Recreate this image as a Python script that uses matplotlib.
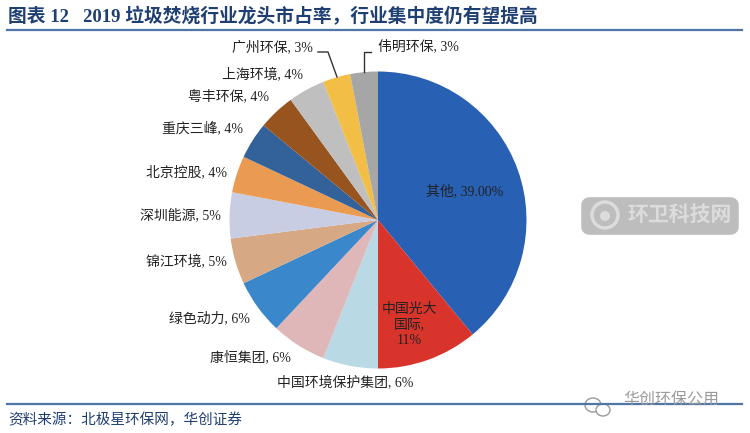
import matplotlib
matplotlib.use("Agg")
import matplotlib.pyplot as plt
from matplotlib.patches import Circle, Ellipse, FancyBboxPatch

plt.rcParams['font.family'] = ['Liberation Serif', 'Noto Sans CJK SC', 'DejaVu Sans']

names = ["其他", "中国光大\n国际", "中国环境保护集团", "康恒集团", "绿色动力", "锦江环境",
         "深圳能源", "北京控股", "重庆三峰", "粤丰环保", "上海环境", "广州环保", "伟明环保"]
shares = [39, 11, 6, 6, 6, 5, 5, 4, 4, 4, 4, 3, 3]
share_labels = ["39.00%", "11%", "6%", "6%", "6%", "5%", "5%", "4%", "4%", "4%", "4%", "3%", "3%"]
colors = ["#2860b4", "#d8342b", "#b9d9e4", "#e0b7b8", "#3b87cc", "#d6a884", "#c9cde3",
          "#eb9a52", "#33619a", "#98541f", "#bfbfbf", "#f2be45", "#a6a6a6"]

# label centres in pixels, same order as names
label_x = [465, 409, 345, 250, 209, 186, 180, 187, 203, 228, 262, 272, 418]
label_y = [191, 325, 383, 357, 318, 262, 215, 172, 128, 96, 75, 47, 46]

title = "图表 12   2019 垃圾焚烧行业龙头市占率，行业集中度仍有望提高"
source = "资料来源：北极星环保网，华创证券"
navy = "#1f3f73"
line_blue = "#4f76a6"

fig = plt.figure(figsize=(7.5, 4.33), dpi=100)
ax = fig.add_axes([0, 0, 1, 1])

# y runs downward so everything below is in picture pixels; -90 is the top of the pie
ax.pie(shares, colors=colors, center=(378, 220), radius=148.5, startangle=-90,
       wedgeprops={"linewidth": 0})
ax.set_xlim(0, 750)
ax.set_ylim(433, 0)
ax.set_aspect("auto")
ax.axis("off")

for i in range(len(names)):
    if i == 1:
        text = names[i] + ",\n" + share_labels[i]
    else:
        text = names[i] + ", " + share_labels[i]
    ax.text(label_x[i], label_y[i], text, fontsize=10, color="#222222",
            ha="center", va="center", linespacing=1.25)

# leader lines
ax.plot([318, 328, 337], [52, 52, 77], color="#333333", lw=1)
ax.plot([371, 364, 364], [52, 52, 72], color="#333333", lw=1)

# header and footer
ax.text(8, 17, title, fontsize=13.5, fontweight="bold", color=navy, ha="left", va="center")
ax.plot([7, 742], [30, 30], color=line_blue, lw=1.6)
ax.plot([7, 742], [404, 404], color=line_blue, lw=1.6)
ax.text(8, 420, source, fontsize=10.5, color=navy, ha="left", va="center", style="italic")

# watermarks
ax.add_patch(FancyBboxPatch((584, 200), 152, 32, boxstyle="round,pad=0,rounding_size=6",
                            facecolor="#bdbdbd", edgecolor="#bdbdbd", lw=4))
ax.add_patch(Circle((605, 215), 13, facecolor="none", edgecolor="#dcdcdc", lw=2.5))
ax.add_patch(Circle((605, 216), 5, facecolor="#dcdcdc", edgecolor="none"))
ax.text(680, 216, "环卫科技网", fontsize=15, fontweight="bold", color="#dcdcdc",
        ha="center", va="center")
ax.add_patch(Ellipse((593, 405), 16, 14, facecolor="#ffffff", edgecolor="#9a9a9a", lw=1))
ax.add_patch(Ellipse((603, 410), 14, 12, facecolor="#ffffff", edgecolor="#9a9a9a", lw=1))
ax.text(671, 400, "华创环保公用", fontsize=11.5, color="#9a9a9a", ha="center", va="center")

fig.savefig("out.png", dpi=100)
